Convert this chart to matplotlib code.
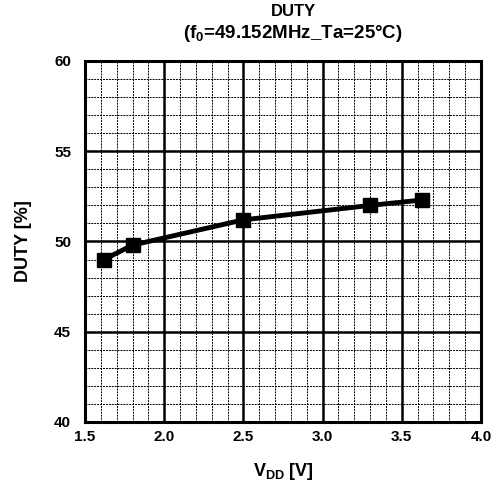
import matplotlib
matplotlib.use("Agg")
import matplotlib.pyplot as plt
from matplotlib.ticker import MultipleLocator

plt.rcParams['font.family'] = ['Liberation Sans', 'DejaVu Sans']
plt.rcParams['font.weight'] = 'bold'
plt.rcParams['mathtext.fontset'] = 'custom'
plt.rcParams['mathtext.bf'] = 'Liberation Sans:bold'
plt.rcParams['mathtext.rm'] = 'Liberation Sans:bold'

vdd = [1.62, 1.8, 2.5, 3.3, 3.63]
duty = [49.0, 49.8, 51.2, 52.0, 52.3]
xticks = [1.5, 2.0, 2.5, 3.0, 3.5, 4.0]
yticks = [40, 45, 50, 55, 60]

fig = plt.figure(figsize=(4.92, 4.87), dpi=100)
ax = fig.add_axes([85/492, 1-422/487, (481-85)/492, (422-61)/487])
ax.set_xlim(1.5, 4.0)
ax.set_ylim(40, 60)
ax.set_xticks(xticks)
ax.set_xticklabels([f"{v:.1f}" for v in xticks], fontsize=11, fontweight='bold')
ax.set_yticks(yticks)
ax.set_yticklabels([str(v) for v in yticks], fontsize=11, fontweight='bold')
ax.xaxis.set_minor_locator(MultipleLocator(0.1))
ax.yaxis.set_minor_locator(MultipleLocator(1))
ax.grid(which='minor', color='black', linestyle=(0, (2, 1)), linewidth=0.7)
ax.grid(which='major', color='black', linestyle='-', linewidth=1.8)
ax.tick_params(which='both', length=0)
ax.tick_params(axis='y', pad=10)
ax.tick_params(axis='x', pad=6)
for s in ax.spines.values():
    s.set_linewidth(2.2)
ax.set_axisbelow(True)

ax.plot(vdd, duty, color='black', linewidth=3.5, marker='s', markersize=10, zorder=5)

ax.set_xlabel(r"V$_{\mathrm{DD}}$ [V]", fontsize=13, fontweight='bold', labelpad=12)
ax.set_ylabel("DUTY [%]", fontsize=13, fontweight='bold', labelpad=16)
cx = 293 / 492
fig.text(cx, 1 - 12 / 487, "DUTY", ha='center', va='center', fontsize=12, fontweight='bold')
fig.text(cx, 1 - 33 / 487, r"(f$_{\mathrm{0}}$=49.152MHz_Ta=25°C)", ha='center', va='center', fontsize=13.5, fontweight='bold')

fig.savefig("out.png", dpi=100)
